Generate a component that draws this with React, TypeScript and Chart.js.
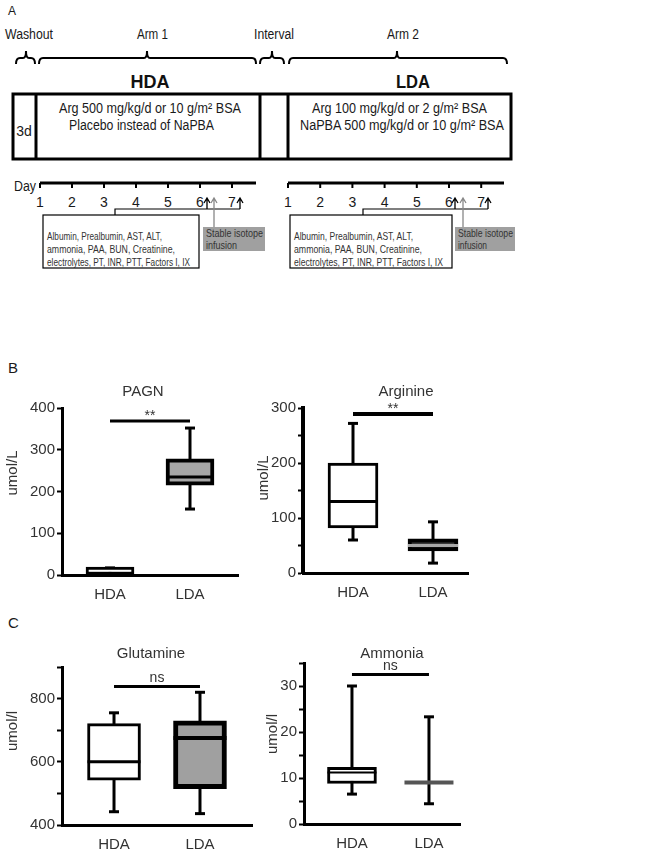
import React, { useEffect, useRef } from 'react';
import { Chart, registerables } from 'chart.js';
Chart.register(...registerables);

// ---------------- data ----------------
const groupLabels = ['HDA', 'LDA'];

const pagnMin = [0, 158];
const pagnQ1 = [0, 215];
const pagnMedian = [1, 235];
const pagnQ3 = [19, 278];
const pagnMax = [17, 352];
const pagnTickLabels = [0, 100, 200, 300, 400];
const pagnSignificance = [369];
const pagnSignificanceText = '**';

const arginineMin = [60, 18];
const arginineQ1 = [82, 40];
const arginineMedian = [130, 50];
const arginineQ3 = [200, 62];
const arginineMax = [272, 93];
const arginineTickLabels = [0, 100, 200, 300];
const arginineSignificance = [289];
const arginineSignificanceText = '**';

const glutamineMin = [442, 436];
const glutamineQ1 = [542, 515];
const glutamineMedian = [600, 675];
const glutamineQ3 = [721, 730];
const glutamineMax = [755, 820];
const glutamineTickLabels = [400, 600, 800];
const glutamineSignificance = [838];
const glutamineSignificanceText = 'ns';

const ammoniaMin = [6.5, 4.4];
const ammoniaQ1 = [8.8, 9];
const ammoniaMedian = [11.2, 9];
const ammoniaQ3 = [12.3, 9];
const ammoniaMax = [30, 23.3];
const ammoniaTickLabels = [0, 10, 20, 30];
const ammoniaSignificance = [32.5];
const ammoniaSignificanceText = 'ns';

// panel A text
const phaseLabels = ['Washout', 'Arm 1', 'Interval', 'Arm 2'];
const armNames = ['HDA', 'LDA'];
const arm1Lines = ['Arg 500 mg/kg/d or 10 g/m\u00B2 BSA', 'Placebo instead of NaPBA'];
const arm2Lines = ['Arg 100 mg/kg/d or 2 g/m\u00B2 BSA', 'NaPBA 500 mg/kg/d or 10 g/m\u00B2 BSA'];
const washoutLabel = '3d';
const dayNumbers = [1, 2, 3, 4, 5, 6, 7];
const labLines = [
  'Albumin, Prealbumin, AST, ALT,',
  'ammonia, PAA, BUN, Creatinine,',
  'electrolytes, PT, INR, PTT, Factors I, IX',
];
const isotopeLines = ['Stable isotope', 'infusion'];

const FONT = '"Liberation Sans", Arial, Helvetica, sans-serif';

// ---------------- box plot charts ----------------
type BoxSpec = {
  title: string;
  yTitle: string;
  min: number[];
  q1: number[];
  med: number[];
  q3: number[];
  max: number[];
  yLabels: number[];
  sig: number[];
  sigText: string;
  yMin: number;
  yMax: number;
  yStep: number;
  left: number;
  top: number;
  width: number;
  height: number;
  axisX: number;
  plotTop: number;
  plotRight: number;
  plotBottom: number;
  xMin: number;
  xMax: number;
  barWidth: number;
  fills: string[];
  boxBorder: number[];
  medianColors: string[];
  medianWidths: number[];
  yBorder: number;
  sigWidth: number;
  titlePos: [number, number];
  yTitlePos: [number, number];
};

const specs: BoxSpec[] = [
  {
    title: 'PAGN', yTitle: 'umol/L',
    min: pagnMin, q1: pagnQ1, med: pagnMedian, q3: pagnQ3, max: pagnMax,
    yLabels: pagnTickLabels, sig: pagnSignificance, sigText: pagnSignificanceText,
    yMin: 0, yMax: 400, yStep: 100,
    left: 0, top: 375, width: 256, height: 235,
    axisX: 62, plotTop: 408, plotRight: 238, plotBottom: 575,
    xMin: -0.6, xMax: 1.6, barWidth: 48,
    fills: ['#ffffff', '#a6a6a6'], boxBorder: [3, 4],
    medianColors: ['#000', '#000'], medianWidths: [3, 3],
    yBorder: 3, sigWidth: 3,
    titlePos: [143, 392], yTitlePos: [13, 473],
  },
  {
    title: 'Arginine', yTitle: 'umol/L',
    min: arginineMin, q1: arginineQ1, med: arginineMedian, q3: arginineQ3, max: arginineMax,
    yLabels: arginineTickLabels, sig: arginineSignificance, sigText: arginineSignificanceText,
    yMin: 0, yMax: 300, yStep: 50,
    left: 256, top: 375, width: 264, height: 235,
    axisX: 303, plotTop: 408, plotRight: 468, plotBottom: 573,
    xMin: -0.625, xMax: 1.4375, barWidth: 50,
    fills: ['#ffffff', '#3a3a3a'], boxBorder: [3, 4],
    medianColors: ['#000', '#a8a8a8'], medianWidths: [3, 3],
    yBorder: 4, sigWidth: 4,
    titlePos: [406, 392], yTitlePos: [264, 478],
  },
  {
    title: 'Glutamine', yTitle: 'umol/l',
    min: glutamineMin, q1: glutamineQ1, med: glutamineMedian, q3: glutamineQ3, max: glutamineMax,
    yLabels: glutamineTickLabels, sig: glutamineSignificance, sigText: glutamineSignificanceText,
    yMin: 400, yMax: 900, yStep: 100,
    left: 0, top: 635, width: 256, height: 220,
    axisX: 62, plotTop: 667, plotRight: 252, plotBottom: 825,
    xMin: -0.605, xMax: 1.605, barWidth: 53,
    fills: ['#ffffff', '#a0a0a0'], boxBorder: [3, 5],
    medianColors: ['#000', '#000'], medianWidths: [3, 4],
    yBorder: 3, sigWidth: 3,
    titlePos: [151, 654], yTitlePos: [13, 731],
  },
  {
    title: 'Ammonia', yTitle: 'umol/l',
    min: ammoniaMin, q1: ammoniaQ1, med: ammoniaMedian, q3: ammoniaQ3, max: ammoniaMax,
    yLabels: ammoniaTickLabels, sig: ammoniaSignificance, sigText: ammoniaSignificanceText,
    yMin: 0, yMax: 35, yStep: 5,
    left: 256, top: 635, width: 264, height: 220,
    axisX: 304, plotTop: 663, plotRight: 460, plotBottom: 824,
    xMin: -0.623, xMax: 1.403, barWidth: 49,
    fills: ['#ffffff', '#ffffff'], boxBorder: [3, 0],
    medianColors: ['#000', '#555555'], medianWidths: [2, 4],
    yBorder: 3, sigWidth: 3,
    titlePos: [392, 654], yTitlePos: [273, 734],
  },
];

function BoxChart({ spec }: { spec: BoxSpec }) {
  const ref = useRef<HTMLCanvasElement>(null);
  useEffect(() => {
    const s = spec;
    const canvas = ref.current;
    if (!canvas) return;
    const n = groupLabels.length;
    const capHalf = 5;

    const plugin = {
      id: 'boxExtras',
      beforeDatasetsDraw(chart: any) {
        const { ctx } = chart;
        const x = chart.scales.x;
        const y = chart.scales.y;
        ctx.save();
        ctx.strokeStyle = '#000';
        ctx.lineWidth = 3;
        for (let i = 0; i < n; i++) {
          const px = x.getPixelForValue(i);
          ctx.beginPath();
          ctx.moveTo(px, y.getPixelForValue(s.max[i]));
          ctx.lineTo(px, y.getPixelForValue(s.min[i]));
          ctx.stroke();
          for (const v of [s.min[i], s.max[i]]) {
            const py = y.getPixelForValue(v);
            ctx.beginPath();
            ctx.moveTo(px - capHalf, py);
            ctx.lineTo(px + capHalf, py);
            ctx.stroke();
          }
        }
        ctx.restore();
      },
      afterDatasetsDraw(chart: any) {
        const { ctx } = chart;
        const x = chart.scales.x;
        const y = chart.scales.y;
        ctx.save();
        for (let i = 0; i < n; i++) {
          const px = x.getPixelForValue(i);
          const py = y.getPixelForValue(s.med[i]);
          ctx.strokeStyle = s.medianColors[i];
          ctx.lineWidth = s.medianWidths[i];
          ctx.beginPath();
          ctx.moveTo(px - s.barWidth / 2, py);
          ctx.lineTo(px + s.barWidth / 2, py);
          ctx.stroke();
        }
        const sy = y.getPixelForValue(s.sig[0]);
        const sx0 = x.getPixelForValue(0);
        const sx1 = x.getPixelForValue(1);
        ctx.strokeStyle = '#000';
        ctx.lineWidth = s.sigWidth;
        ctx.beginPath();
        ctx.moveTo(sx0, sy);
        ctx.lineTo(sx1, sy);
        ctx.stroke();
        ctx.fillStyle = '#333';
        ctx.font = `14px ${FONT}`;
        ctx.textAlign = 'center';
        ctx.textBaseline = 'alphabetic';
        const m = ctx.measureText(s.sigText);
        const base = sy - s.sigWidth / 2 - 3 - m.actualBoundingBoxDescent;
        ctx.fillText(s.sigText, (sx0 + sx1) / 2, base);
        ctx.font = `15px ${FONT}`;
        ctx.textBaseline = 'middle';
        ctx.fillStyle = '#333';
        ctx.fillText(s.title, s.titlePos[0] - s.left, s.titlePos[1] - s.top);
        ctx.translate(s.yTitlePos[0] - s.left, s.yTitlePos[1] - s.top);
        ctx.rotate(-Math.PI / 2);
        ctx.fillText(s.yTitle, 0, 0);
        ctx.restore();
      },
    };

    const chart = new Chart(canvas, {
      type: 'bar',
      data: {
        datasets: [
          {
            data: groupLabels.map((_, i) => ({ x: i, y: [s.q1[i], s.q3[i]] })) as any,
            backgroundColor: s.fills,
            borderColor: '#000',
            borderWidth: s.boxBorder,
            borderSkipped: false,
            barThickness: s.barWidth,
          },
        ],
      },
      options: {
        responsive: false,
        animation: false,
        events: [],
        layout: {
          padding: {
            top: s.plotTop - s.top,
            right: s.left + s.width - s.plotRight,
            left: 0,
            bottom: 0,
          },
        },
        plugins: {
          legend: { display: false },
          tooltip: { enabled: false },
          title: { display: false },
        },
        scales: {
          x: {
            type: 'linear',
            position: 'bottom',
            min: s.xMin,
            max: s.xMax,
            offset: false,
            afterBuildTicks: (sc: any) => {
              sc.ticks = groupLabels.map((_, i) => ({ value: i }));
            },
            afterFit: (sc: any) => {
              sc.height = s.top + s.height - s.plotBottom;
            },
            ticks: {
              callback: (v: any) => groupLabels[v] ?? '',
              font: { family: FONT, size: 15 },
              color: '#333',
              padding: 11,
              maxRotation: 0,
              autoSkip: false,
            },
            grid: { display: true, drawOnChartArea: false, drawTicks: false, offset: false },
            border: { display: true, color: '#000', width: 3 },
          },
          y: {
            type: 'linear',
            min: s.yMin,
            max: s.yMax,
            afterFit: (sc: any) => {
              sc.width = s.axisX - s.left;
            },
            ticks: {
              stepSize: s.yStep,
              callback: (v: any) => (s.yLabels.includes(Number(v)) ? String(v) : ''),
              font: { family: FONT, size: 15 },
              color: '#333',
              padding: 2,
              autoSkip: false,
            },
            grid: {
              display: true,
              drawOnChartArea: false,
              drawTicks: true,
              tickLength: 5,
              tickWidth: 2,
              color: '#000',
            },
            border: { display: true, color: '#000', width: s.yBorder },
          },
        },
      } as any,
      plugins: [plugin],
    });
    return () => chart.destroy();
  }, [spec]);

  return (
    <canvas
      ref={ref}
      width={spec.width}
      height={spec.height}
      style={{ position: 'absolute', left: spec.left, top: spec.top, width: spec.width, height: spec.height }}
    />
  );
}

// ---------------- panel A diagram ----------------
function Diagram() {
  const ink = '#1a1a1a';
  const phaseLayout = [
    { cx: 29, w: 48, x1: 16, x2: 35, tip: 26 },
    { cx: 152.5, w: 31, x1: 39, x2: 256, tip: 147 },
    { cx: 274, w: 40, x1: 260, x2: 284, tip: 272 },
    { cx: 403, w: 32, x1: 289, x2: 507, tip: 397 },
  ];
  const brace = (x1: number, x2: number, xc: number) =>
    `M${x1} 64 Q${x1} 58 ${x1 + 4} 58 L${xc - 3} 58 Q${xc} 58 ${xc} 51 Q${xc} 58 ${xc + 3} 58 L${x2 - 4} 58 Q${x2} 58 ${x2} 64`;
  const armText = [
    { lines: arm1Lines, cx: [150, 141.5], w: [182, 145], nameX: 150, nameW: 39 },
    { lines: arm2Lines, cx: [399.5, 402], w: [175, 204], nameX: 413, nameW: 34 },
  ];
  const timelines = [
    { x0: 40, x1: 256, step: 32, labX: 43, labW: 156, labTW: [115, 128, 143], conn: 115, arrows: [207, 240], gray: 214, isoX: 203, isoW: 62, isoTW: [57, 31] },
    { x0: 288, x1: 504, step: 32.2, labX: 290, labW: 162, labTW: [119, 128, 149], conn: 363, arrows: [455, 488], gray: 463, isoX: 455, isoW: 60, isoTW: [55, 29] },
  ];
  const arrow = (x: number, yb: number) => `M${x} ${yb} L${x} 198 M${x - 3} 203 L${x} 198 L${x + 3} 203`;

  return (
    <svg width={664} height={855} style={{ position: 'absolute', left: 0, top: 0 }} fontFamily={FONT}>
      <text x={8} y={15} fontSize={12} fill={ink}>A</text>
      <text x={8} y={373} fontSize={15} fill={ink}>B</text>
      <text x={8} y={628} fontSize={15} fill={ink}>C</text>

      {phaseLabels.map((p, i) => (
        <g key={p}>
          <text x={phaseLayout[i].cx} y={39} fontSize={14} fill={ink} textAnchor="middle" textLength={phaseLayout[i].w} lengthAdjust="spacingAndGlyphs">{p}</text>
          <path d={brace(phaseLayout[i].x1, phaseLayout[i].x2, phaseLayout[i].tip)} fill="none" stroke="#000" strokeWidth={2} />
        </g>
      ))}

      {armNames.map((a, i) => (
        <text key={a} x={armText[i].nameX} y={88} fontSize={18} fontWeight="bold" fill="#111" textAnchor="middle" textLength={armText[i].nameW} lengthAdjust="spacingAndGlyphs">{a}</text>
      ))}

      <rect x={13} y={94} width={498} height={65} fill="none" stroke="#000" strokeWidth={3} />
      {[36, 260, 288].map((x) => (
        <line key={x} x1={x} y1={94} x2={x} y2={159} stroke="#000" strokeWidth={3} />
      ))}
      <text x={24} y={136} fontSize={14} fill={ink} textAnchor="middle">{washoutLabel}</text>
      {armText.map((a, i) =>
        a.lines.map((l, j) => (
          <text key={`${i}-${j}`} x={a.cx[j]} y={j === 0 ? 113 : 130} fontSize={14} fill={ink} textAnchor="middle" textLength={a.w[j]} lengthAdjust="spacingAndGlyphs">{l}</text>
        ))
      )}

      <text x={14} y={191} fontSize={14} fill={ink} textLength={22} lengthAdjust="spacingAndGlyphs">Day</text>
      {timelines.map((t, k) => (
        <g key={k}>
          <line x1={t.x0} y1={183} x2={t.x1} y2={183} stroke="#000" strokeWidth={3} />
          {dayNumbers.map((d) => {
            const x = t.x0 + (d - 1) * t.step;
            return (
              <g key={d}>
                <line x1={x} y1={183} x2={x} y2={188} stroke="#000" strokeWidth={2} />
                <text x={x} y={207} fontSize={14} fill={ink} textAnchor="middle">{d}</text>
              </g>
            );
          })}
          <path d={`M${t.conn} 215 L${t.conn} 209 L${t.arrows[1]} 209`} fill="none" stroke="#000" strokeWidth={1.2} />
          {t.arrows.map((x) => (
            <path key={x} d={arrow(x, 209)} fill="none" stroke="#000" strokeWidth={1.3} />
          ))}
          <path d={arrow(t.gray, 227)} fill="none" stroke="#888" strokeWidth={1.3} />
          <rect x={t.labX} y={215} width={t.labW} height={53} fill="#fff" stroke="#000" strokeWidth={1.2} />
          {labLines.map((l, j) => (
            <text key={j} x={t.labX + 4} y={240 + j * 13} fontSize={11} fill="#333" textLength={t.labTW[j]} lengthAdjust="spacingAndGlyphs">{l}</text>
          ))}
          <rect x={t.isoX} y={227} width={t.isoW} height={24} fill="#a0a0a0" />
          {isotopeLines.map((l, j) => (
            <text key={j} x={t.isoX + 3} y={237 + j * 12} fontSize={11} fill="#333" textLength={t.isoTW[j]} lengthAdjust="spacingAndGlyphs">{l}</text>
          ))}
        </g>
      ))}
    </svg>
  );
}

export default function App() {
  return (
    <div style={{ position: 'absolute', left: 0, top: 0, width: 664, height: 855, background: '#fff', overflow: 'hidden' }}>
      <Diagram />
      {specs.map((s) => (
        <BoxChart key={s.title} spec={s} />
      ))}
    </div>
  );
}
